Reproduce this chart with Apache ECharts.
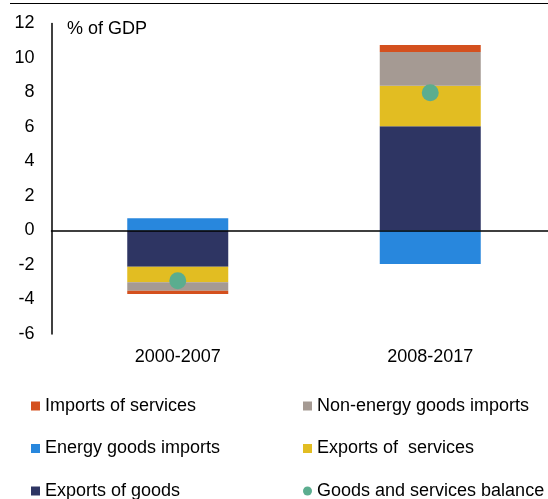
<!DOCTYPE html>
<html lang="en" style="height: 100%">
<head>
  <meta charset="utf-8">
  <script type="text/javascript" src="https://cdn.jsdelivr.net/npm/echarts@6/dist/echarts.min.js"></script>
</head>
<body style="height: 100%; margin: 0; overflow: hidden">
  <div id="main" style="height: 499px; width: 560px"></div>

  <script type="text/javascript">
	var periods = ['2000-2007', '2008-2017'];
	var exportsGoods = [-2.10, 6.04];
	var exportsServices = [-0.90, 2.35];
	var nonEnergyImports = [-0.49, 1.96];
	var importsServices = [-0.19, 0.40];
	var energyImports = [0.71, -1.94];
	var balance = [-2.91, 7.99];
	var yTicks = { min: -6, max: 12, step: 2 };

	var font = 'Liberation Sans, Arial, sans-serif';
	// canvas is a bit wider than the window: the plot runs past the right edge
	var chart = echarts.init(document.getElementById('main'));

	function bar(name, data, color) {
		return {
			name: name,
			type: 'bar',
			stack: 'total',
			barWidth: 101,
			data: data,
			itemStyle: { color: color }
		};
	}

	var legendText = { fontSize: 18, color: '#000', fontFamily: font };

	var option = {
		animation: false,
		textStyle: { fontFamily: font },
		grid: { left: 51.5, top: 23.5, width: 505, bottom: 165 },
		xAxis: [
			{
				type: 'category',
				data: periods,
				axisLine: { show: false, onZero: false },
				axisTick: { show: false },
				axisLabel: { fontSize: 18, color: '#000', margin: 14, fontFamily: font }
			},
			{
				type: 'category',
				data: periods,
				z: 10,
				axisLine: { onZero: true, lineStyle: { color: '#000', width: 1.5 } },
				axisTick: { show: false },
				axisLabel: { show: false }
			}
		],
		yAxis: {
			type: 'value',
			min: yTicks.min,
			max: yTicks.max,
			interval: yTicks.step,
			axisLine: { show: true, lineStyle: { color: '#000', width: 1.5 } },
			axisTick: { show: false },
			splitLine: { show: false },
			axisLabel: { fontSize: 18, color: '#000', margin: 17, fontFamily: font, padding: [3, 0, 0, 0] }
		},
		legend: [
			{
				orient: 'vertical',
				left: 26,
				top: 392,
				height: 110,
				itemWidth: 9,
				itemHeight: 9,
				itemGap: 24.5,
				textStyle: legendText,
				data: [
					{ name: 'Imports of services', icon: 'rect' },
					{ name: 'Energy goods imports', icon: 'rect' },
					{ name: 'Exports of goods', icon: 'rect' }
				]
			},
			{
				orient: 'vertical',
				left: 298,
				top: 392,
				height: 110,
				itemWidth: 9,
				itemHeight: 9,
				itemGap: 24.5,
				textStyle: legendText,
				data: [
					{ name: 'Non-energy goods imports', icon: 'rect' },
					{ name: 'Exports of  services', icon: 'rect' },
					{ name: 'Goods and services balance', icon: 'circle' }
				]
			}
		],
		graphic: [
			{
				type: 'line',
				shape: { x1: 10, y1: 3.5, x2: 560, y2: 3.5 },
				style: { stroke: '#000', lineWidth: 1 }
			},
			{
				type: 'text',
				left: 67,
				top: 20,
				style: { text: '% of GDP', fill: '#000', font: '18px ' + font }
			}
		],
		series: [
			bar('Exports of goods', exportsGoods, '#2E3563'),
			bar('Exports of  services', exportsServices, '#E2BD22'),
			bar('Non-energy goods imports', nonEnergyImports, '#A59A93'),
			bar('Imports of services', importsServices, '#D4501E'),
			bar('Energy goods imports', energyImports, '#2887DD'),
			{
				name: 'Goods and services balance',
				type: 'scatter',
				symbolSize: 17,
				z: 20,
				data: balance,
				itemStyle: { color: '#5BAD8F', opacity: 1 }
			}
		]
	};

	chart.setOption(option);
  </script>
</body>
</html>
